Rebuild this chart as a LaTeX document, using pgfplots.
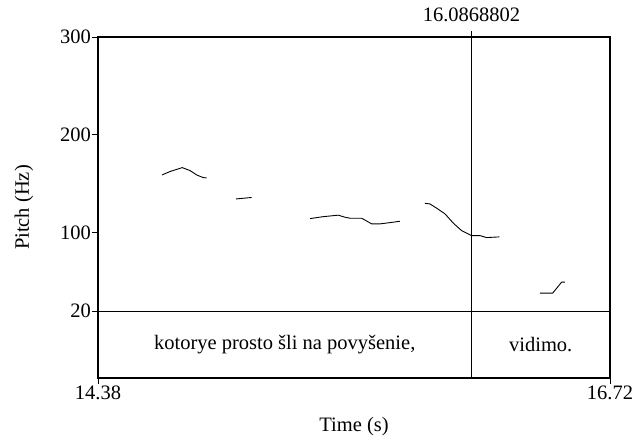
\documentclass[border=0pt]{standalone}
\usepackage{fontspec}
\setmainfont{Liberation Serif}
\usepackage{pgfplots}
\pgfplotsset{compat=1.18}
\begin{document}
\fontsize{20.5}{24}\selectfont
\begin{tikzpicture}[x=1pt,y=1pt,font=\fontsize{20.5}{24}\selectfont]
\useasboundingbox (-98,-63) rectangle (543,378);
\begin{axis}[
    at={(0,0)}, anchor=south west,
    scale only axis, width=512pt, height=341pt,
    xmin=14.38, xmax=16.72, ymin=-48.5, ymax=300,
    clip=false,
    axis line style={line width=1.6pt},
    xtick={14.38,16.72}, xticklabels={14.38,16.72},
    ytick={20,100,200,300}, yticklabels={20,100,200,300},
    tick align=outside, tick pos=left,
    major tick length=6pt,
    tick style={black, line width=0.8pt},
    xticklabel style={inner ysep=2pt},
    yticklabel style={inner xsep=1pt},
    xlabel={Time (s)}, ylabel={Pitch (Hz)},
    xlabel style={at={(axis description cs:0.5,-0.158)}, anchor=base},
    ylabel style={at={(axis description cs:-0.1445,0.5)}, anchor=center},
]
% pitch contour pieces
\addplot[black, line width=0.9pt] coordinates {
  (14.6725,159) (14.709,162.5) (14.765,166.5) (14.8005,163.5) (14.831,159) (14.861,156.3) (14.876,156)
};
\addplot[black, line width=0.9pt] coordinates {
  (15.011,134.5) (15.050,135.3) (15.0825,136)
};
\addplot[black, line width=0.9pt] coordinates {
  (15.349,114.4) (15.410,116.4) (15.478,117.9) (15.509,115.8) (15.532,114.8)
  (15.585,114.8) (15.631,109) (15.669,109) (15.715,110.3) (15.760,111.7)
};
\addplot[black, line width=0.9pt] coordinates {
  (15.874,130) (15.897,129.4) (15.928,125) (15.966,119.2) (16.004,109.7)
  (16.042,102.1) (16.088,97) (16.126,97) (16.156,95) (16.214,95.7)
};
\addplot[black, line width=0.9pt] coordinates {
  (16.400,38.2) (16.458,38.2) (16.499,49.5) (16.514,49.5)
};
% tier boundary and cursor
\draw[line width=0.7pt] (axis cs:14.38,20) -- (axis cs:16.72,20);
\draw[line width=0.7pt] (axis cs:16.0868802,-48.5) -- ([yshift=6pt]axis cs:16.0868802,300);
\node[anchor=base] at ([yshift=15pt]axis cs:16.0868802,300) {16.0868802};
\node at (axis cs:15.2334,-14.25) {kotorye prosto šli na povyšenie,};
\node at (axis cs:16.4034,-14.25) {vidimo.};
\end{axis}
\end{tikzpicture}
\end{document}
